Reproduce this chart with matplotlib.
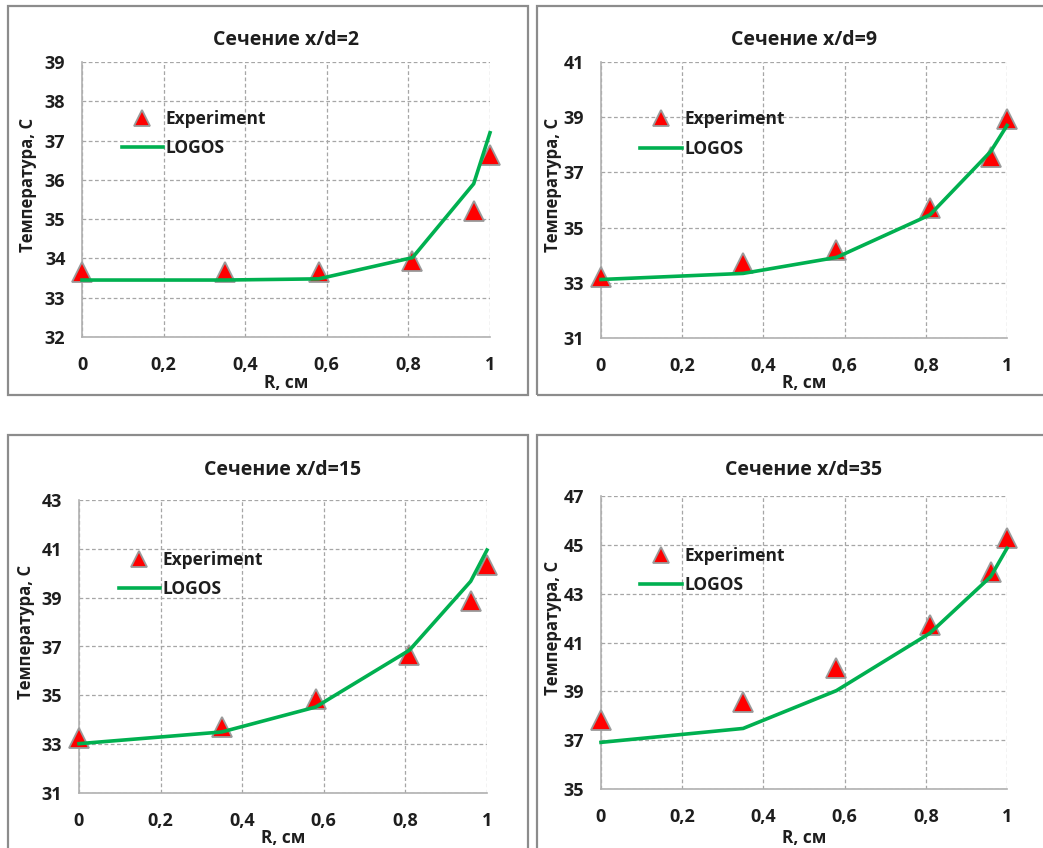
import matplotlib
matplotlib.use("Agg")
import matplotlib.pyplot as plt
import numpy as np
from matplotlib.patches import Rectangle
from matplotlib.ticker import FuncFormatter, MultipleLocator, FixedLocator

plt.rcParams['font.family'] = ['Open Sans', 'DejaVu Sans']
plt.rcParams['font.weight'] = 'bold'

# Radial positions of the measurement points, cm
r_cm = [0.0, 0.35, 0.58, 0.81, 0.96, 1.0]

# Measured temperatures per section, °C
exp_xd2 = [33.65, 33.65, 33.65, 33.93, 35.2, 36.63]
exp_xd9 = [33.2, 33.7, 34.2, 35.7, 37.55, 38.95]
exp_xd15 = [33.25, 33.7, 34.87, 36.64, 38.86, 40.33]
exp_xd35 = [37.83, 38.58, 39.94, 41.72, 43.9, 45.27]

# LOGOS simulation results, °C
logos_xd2 = [33.45, 33.45, 33.48, 34.02, 35.9, 37.2]
logos_xd9 = [33.12, 33.34, 33.92, 35.46, 37.76, 38.7]
logos_xd15 = [33.02, 33.5, 34.52, 36.85, 39.67, 40.95]
logos_xd35 = [36.91, 37.48, 39.03, 41.38, 43.7, 44.86]

titles = ["Сечение x/d=2", "Сечение x/d=9", "Сечение x/d=15", "Сечение x/d=35"]
y_ranges = [(32, 39, 1), (31, 41, 2), (31, 43, 2), (35, 47, 2)]
xlabel = "R, см"
ylabel = "Температура, С"

W, H = 1043, 848
fig = plt.figure(figsize=(W / 100, H / 100), dpi=100)

# Panel frames (pixels: left, top, right, bottom)
frames = [(8, 6, 528, 395), (537, 6, 1045, 395), (8, 435, 528, 852), (537, 435, 1045, 852)]
for l, t, r, b in frames:
    fig.patches.append(Rectangle((l / W, 1 - b / H), (r - l) / W, (b - t) / H,
                                 transform=fig.transFigure, fill=False,
                                 edgecolor="#8c8c8c", linewidth=1.6))

# Plot areas (pixels: left, top, right, bottom) and text anchors
areas = [(82, 62, 490, 337), (601, 62, 1007, 338), (79, 500, 487, 793), (601, 496, 1007, 789)]
title_y = [40, 40, 470, 470]
ylabel_x = [28, 553, 26, 553]
xlabel_y = [383, 383, 838, 838]

exps = [exp_xd2, exp_xd9, exp_xd15, exp_xd35]
logs = [logos_xd2, logos_xd9, logos_xd15, logos_xd35]

txt = "#1e1e1e"
fmt = FuncFormatter(lambda v, p: ("%g" % round(v, 2)).replace(".", ","))

for i in range(4):
    l, t, r, b = areas[i]
    ax = fig.add_axes([l / W, 1 - b / H, (r - l) / W, (b - t) / H])
    lo, hi, step = y_ranges[i]
    ax.set_xlim(0, 1)
    ax.set_ylim(lo, hi)
    ax.xaxis.set_major_locator(MultipleLocator(0.2))
    ax.yaxis.set_major_locator(FixedLocator(np.arange(lo, hi + step / 2, step)))
    ax.xaxis.set_major_formatter(fmt)
    ax.grid(True, color="#a6a6a6", linestyle=(0, (3, 2)), linewidth=0.9)
    ax.set_axisbelow(True)
    for s in ("top", "right"):
        ax.spines[s].set_visible(False)
    for s in ("left", "bottom"):
        ax.spines[s].set_color("#b0b0b0")
        ax.spines[s].set_linewidth(1.2)
    ax.tick_params(length=0, labelsize=13, colors=txt, pad=14)
    ax.tick_params(axis='y', pad=12)
    for lab in ax.get_xticklabels() + ax.get_yticklabels():
        lab.set_fontweight('bold')

    ax.plot(r_cm, exps[i], linestyle="none", marker="^", markersize=15,
            markerfacecolor="#ff0000", markeredgecolor="#9a9a9a", markeredgewidth=1.3,
            label="Experiment", zorder=3, clip_on=False)
    ax.plot(r_cm, logs[i], color="#00b050", linewidth=2.6, label="LOGOS",
            zorder=4, clip_on=False)

    leg = ax.legend(loc="upper left", bbox_to_anchor=(0.08, 0.85), frameon=False,
                    fontsize=12.5, handlelength=2.4, handletextpad=0.15,
                    labelspacing=0.65, borderaxespad=0)
    for tx in leg.get_texts():
        tx.set_color(txt)
        tx.set_fontweight('bold')
    leg.legend_handles[0].set_markersize(11)

    cx = (l + r) / 2
    fig.text(cx / W, 1 - title_y[i] / H, titles[i], ha="center", va="center",
             fontsize=14, fontweight="bold", color=txt)
    fig.text(cx / W, 1 - xlabel_y[i] / H, xlabel, ha="center", va="center",
             fontsize=12.5, fontweight="bold", color=txt)
    fig.text(ylabel_x[i] / W, 1 - ((t + b) / 2 - 15) / H, ylabel, ha="center",
             va="center", rotation=90, fontsize=12, fontweight="bold", color=txt)

fig.savefig("out.png", dpi=100)
